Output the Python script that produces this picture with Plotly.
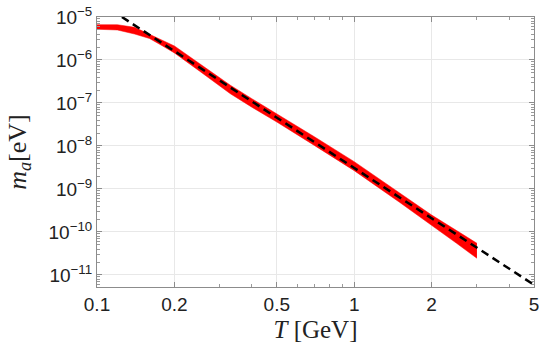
import plotly.graph_objects as go

# red band: axion mass range vs temperature
T_band = [0.1, 0.12, 0.14, 0.16, 0.18, 0.2, 0.25, 0.33, 0.4, 0.5, 0.7, 1.0, 1.5, 2.0, 2.5, 3.0]
m_upper = [6.62e-6, 6.62e-6, 5.75e-6, 4.02e-6, 2.92e-6, 2.12e-6, 8.30e-7, 2.59e-7, 1.26e-7,
           5.66e-8, 1.64e-8, 4.32e-9, 8.2e-10, 2.48e-10, 1.08e-10, 5.46e-11]
m_lower = [5.18e-6, 4.99e-6, 4.02e-6, 3.16e-6, 2.12e-6, 1.46e-6, 5.55e-7, 1.64e-7, 7.98e-8,
           3.61e-8, 1.03e-8, 2.67e-9, 4.91e-10, 1.46e-10, 5.46e-11, 2.44e-11]

# dashed power law: endpoints
T_fit = [0.125, 5.0]
m_fit = [1.0e-5, 5.9e-12]

x_ticks = [0.1, 0.2, 0.5, 1, 2, 5]
x_labels = ["0.1", "0.2", "0.5", "1", "2", "5"]
y_exps = [-5, -6, -7, -8, -9, -10, -11]

fig = go.Figure()
fig.add_trace(go.Scatter(x=T_band, y=m_lower, mode="lines",
                         line=dict(color="red", width=0.5), showlegend=False))
fig.add_trace(go.Scatter(x=T_band, y=m_upper, mode="lines", fill="tonexty",
                         fillcolor="red", line=dict(color="red", width=0.5),
                         showlegend=False))
fig.add_trace(go.Scatter(x=T_fit, y=m_fit, mode="lines",
                         line=dict(color="black", width=2.5, dash="8px,5px"),
                         showlegend=False))

axis_common = dict(showline=True, linecolor="#8c8c8c", linewidth=1, mirror="ticks",
                   ticks="inside", ticklen=5, tickcolor="#8c8c8c", automargin=False,
                   ticklabeloverflow="allow",
                   showgrid=True, gridcolor="#e8e8e8", gridwidth=1, zeroline=False,
                   tickfont=dict(family="Liberation Sans, Arial", size=19, color="#222"),
                   minor=dict(ticks="inside", ticklen=3, tickcolor="#9a9a9a",
                              dtick="D1", showgrid=False))

fig.update_xaxes(type="log", range=[-1, 0.69897], tickvals=x_ticks, ticktext=x_labels,
                 title=dict(text="<i>T</i> [GeV]", standoff=6,
                            font=dict(family="Liberation Serif, Times New Roman", size=25,
                                      color="#222")),
                 **axis_common)
fig.update_yaxes(type="log", range=[-11.28, -5.0],
                 tickvals=[10.0 ** e for e in y_exps],
                 ticktext=["10<sup>\u2212%d</sup>" % -e for e in y_exps],
                 title=dict(text="<i>m</i><sub><i>a</i></sub>[eV]", standoff=14,
                            font=dict(family="Liberation Serif, Times New Roman", size=26,
                                      color="#222")),
                 **axis_common)

fig.update_layout(width=545, height=355, margin=dict(l=97, r=11, t=17, b=68),
                  plot_bgcolor="white", paper_bgcolor="white")

# drop the default 8px body margin so the figure fills the window
fig.write_html("out.html", config={"displayModeBar": False},
               post_script="document.body.style.margin='0';")
